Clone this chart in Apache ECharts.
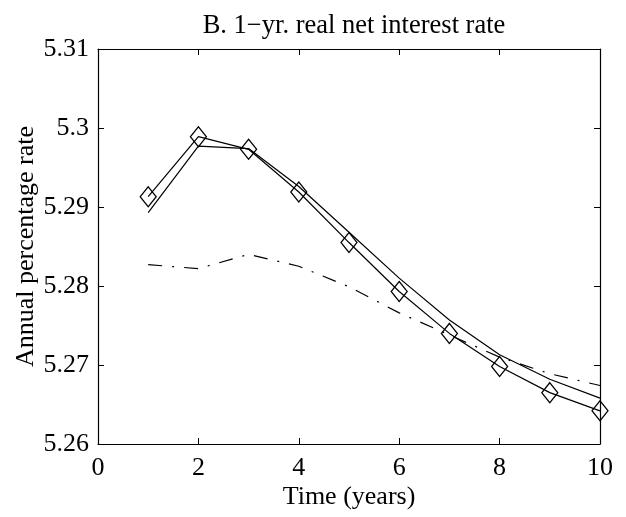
<!DOCTYPE html>
<html>
<head>
<meta charset="utf-8">
<script src="https://cdn.jsdelivr.net/npm/echarts@6/dist/echarts.min.js"></script>
<style>
html,body{margin:0;padding:0;background:#fff;}
#chart{width:626px;height:517px;}
</style>
</head>
<body>
<div id="chart"></div>
<script>
var years = [1, 2, 3, 4, 5, 6, 7, 8, 9, 10];
var diamondSeries = [5.2913, 5.2989, 5.2973, 5.2919, 5.2855, 5.2793, 5.2740, 5.2698, 5.2665, 5.2642];
var solidSeries = [5.2893, 5.2977, 5.2974, 5.2926, 5.2868, 5.2810, 5.2757, 5.2713, 5.2682, 5.2658];
var dashDotSeries = [5.2827, 5.2822, 5.2840, 5.2825, 5.2799, 5.2766, 5.2738, 5.2710, 5.2689, 5.2674];

function pairs(xs, ys) { return xs.map(function (x, i) { return [x, ys[i]]; }); }

var FONT = '"Liberation Serif", "DejaVu Serif", serif';
var chart = echarts.init(document.getElementById('chart'), null, {renderer: 'canvas'});

var axisCommon = {
  axisLine: {show: true, onZero: false, lineStyle: {color: '#000', width: 1.2}},
  axisTick: {show: true, inside: true, length: 6, lineStyle: {color: '#000', width: 1}},
  splitLine: {show: false}
};

chart.setOption({
  animation: false,
  backgroundColor: '#fff',
  title: {
    text: 'B. 1\u2212yr. real net interest rate',
    left: 349,
    textAlign: 'center',
    top: 8,
    textStyle: {fontFamily: FONT, fontSize: 26.5, fontWeight: 'normal', color: '#000'}
  },
  grid: {left: 98, right: 26, top: 49, bottom: 73},
  xAxis: [
    Object.assign({
      type: 'value', min: 0, max: 10, interval: 2, position: 'bottom',
      name: 'Time (years)', nameLocation: 'middle', nameGap: 40, nameMoveOverlap: false,
      nameTextStyle: {fontFamily: FONT, fontSize: 26, color: '#000'},
      axisLabel: {fontFamily: FONT, fontSize: 26, color: '#000', margin: 11}
    }, axisCommon),
    Object.assign({
      type: 'value', min: 0, max: 10, interval: 2, position: 'top',
      axisLabel: {show: false}
    }, axisCommon)
  ],
  yAxis: [
    Object.assign({
      type: 'value', min: 5.26, max: 5.31, interval: 0.01, position: 'left',
      name: 'Annual percentage rate', nameLocation: 'middle', nameGap: 59, nameMoveOverlap: false,
      nameTextStyle: {fontFamily: FONT, fontSize: 26, color: '#000'},
      axisLabel: {fontFamily: FONT, fontSize: 26, color: '#000', margin: 9}
    }, axisCommon),
    Object.assign({
      type: 'value', min: 5.26, max: 5.31, interval: 0.01, position: 'right',
      axisLabel: {show: false}
    }, axisCommon)
  ],
  series: [
    {
      type: 'line', data: pairs(years, solidSeries), showSymbol: false,
      lineStyle: {color: '#000', width: 1.2}, z: 3
    },
    {
      type: 'line', data: pairs(years, dashDotSeries), showSymbol: false,
      lineStyle: {color: '#000', width: 1.2, type: [14, 10, 2, 10]}, z: 2
    },
    {
      type: 'line', data: pairs(years, diamondSeries),
      symbol: 'diamond', symbolSize: [16, 20], showSymbol: true,
      lineStyle: {color: '#000', width: 1.2},
      itemStyle: {color: 'rgba(0,0,0,0)', borderColor: '#000', borderWidth: 1.3}, z: 4
    }
  ]
});
</script>
</body>
</html>
